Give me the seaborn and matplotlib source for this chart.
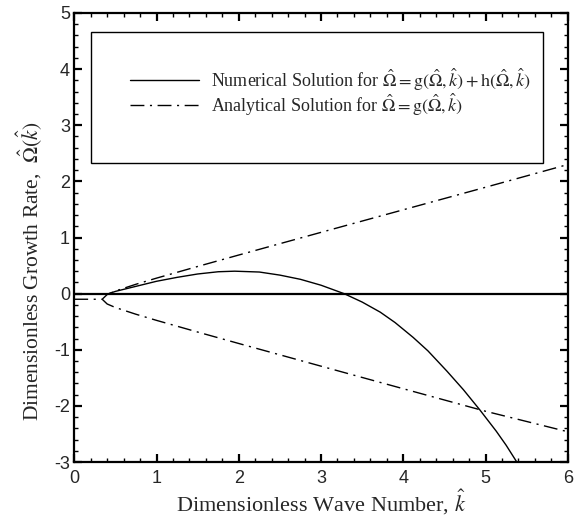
import numpy as np
import pandas as pd
import matplotlib
matplotlib.use("Agg")
import matplotlib.pyplot as plt
from matplotlib.lines import Line2D
from matplotlib.patches import Rectangle
import seaborn as sns

# Numerical solution of the full dispersion relation
k_num = [0.42, 0.5, 0.75, 1.0, 1.25, 1.5, 1.75, 1.95, 2.25, 2.5, 2.75, 3.0,
         3.28, 3.5, 3.72, 3.9, 4.12, 4.3, 4.53, 4.73, 4.93, 5.13, 5.25, 5.38]
omega_num = [0.0, 0.04, 0.13, 0.22, 0.29, 0.35, 0.39, 0.40, 0.385, 0.33, 0.255, 0.15,
             0.0, -0.15, -0.33, -0.515, -0.78, -1.02, -1.38, -1.71, -2.07, -2.45, -2.70, -3.00]

# Analytical solution: real part below the cutoff, then two branches
k_cut = [0.0, 0.34]
omega_cut = [-0.10, -0.10]
k_ana = [0.34, 0.4, 0.5, 0.75, 1.0, 1.5, 2.0, 3.0, 4.0, 5.0, 6.0]
omega_upper = [-0.10, -0.016, 0.047, 0.167, 0.276, 0.484, 0.688, 1.092, 1.494, 1.895, 2.30]
omega_lower = [-0.10, -0.184, -0.247, -0.367, -0.476, -0.684, -0.888, -1.292, -1.694, -2.095, -2.46]

x_ticks = [0, 1, 2, 3, 4, 5, 6]
y_ticks = [-3, -2, -1, 0, 1, 2, 3, 4, 5]

label_num = r"Numerical Solution for $\hat{\Omega} = \mathrm{g}(\hat{\Omega},\hat{k}) + \mathrm{h}(\hat{\Omega},\hat{k})$"
label_ana = r"Analytical Solution for $\hat{\Omega} = \mathrm{g}(\hat{\Omega},\hat{k})$"

sns.set_theme(style="ticks")
plt.rcParams["font.family"] = ["Liberation Serif", "DejaVu Serif"]
plt.rcParams["mathtext.fontset"] = "stix"

fig = plt.figure(figsize=(5.8, 5.18), dpi=100)
ax = fig.add_axes([0.128, 0.108, 0.851, 0.867])

dashdot = (0, (10, 4, 1.5, 4))

sns.lineplot(x=k_num, y=omega_num, color="black", lw=1.0, ax=ax, sort=False)
sns.lineplot(x=k_cut + k_ana, y=omega_cut + omega_upper, color="black", lw=1.0,
             ls=dashdot, ax=ax, sort=False)
sns.lineplot(x=k_ana, y=omega_lower, color="black", lw=1.0, ls=dashdot, ax=ax, sort=False)
ax.axhline(0, color="black", lw=1.6, zorder=3)

ax.set_xlim(0, 6)
ax.set_ylim(-3, 5)
ax.set_xticks(x_ticks)
ax.set_yticks(y_ticks)
ax.set_xticklabels([str(t) for t in x_ticks], family="Liberation Sans", fontsize=13)
ax.set_yticklabels([str(t) for t in y_ticks], family="Liberation Sans", fontsize=13)
ax.xaxis.set_minor_locator(matplotlib.ticker.MultipleLocator(0.2))
ax.yaxis.set_minor_locator(matplotlib.ticker.MultipleLocator(0.2))
ax.tick_params(which="both", direction="in", top=True, right=True, color="black")
ax.tick_params(which="major", length=6, width=1.6, pad=3)
ax.tick_params(axis="x", which="major", pad=6)
ax.tick_params(which="minor", length=3, width=1.0)
for s in ax.spines.values():
    s.set_linewidth(1.6)
    s.set_color("black")

ax.set_xlabel(r"Dimensionless Wave Number, $\hat{k}$", fontsize=16)
ax.set_ylabel(r"Dimensionless Growth Rate,  $\hat{\Omega}(\hat{k})$", fontsize=15.5)
ax.xaxis.set_label_coords(0.5, -0.058)
ax.yaxis.set_label_coords(-0.062, 0.425)

# Framed legend area
ax.add_patch(Rectangle((0.034, 0.666), 0.915, 0.292, transform=ax.transAxes,
                       facecolor="white", edgecolor="black", lw=1.0, zorder=4))
handles = [Line2D([], [], color="black", lw=1.0),
           Line2D([], [], color="black", lw=1.0, ls=dashdot)]
leg = ax.legend(handles, [label_num, label_ana], loc="center left",
                bbox_to_anchor=(0.113, 0.824), frameon=False, fontsize=13,
                handlelength=3.8, handletextpad=0.7, labelspacing=-0.08, borderpad=0,
                borderaxespad=0)
leg.set_zorder(5)

fig.savefig("out.png", dpi=100, facecolor="white")
